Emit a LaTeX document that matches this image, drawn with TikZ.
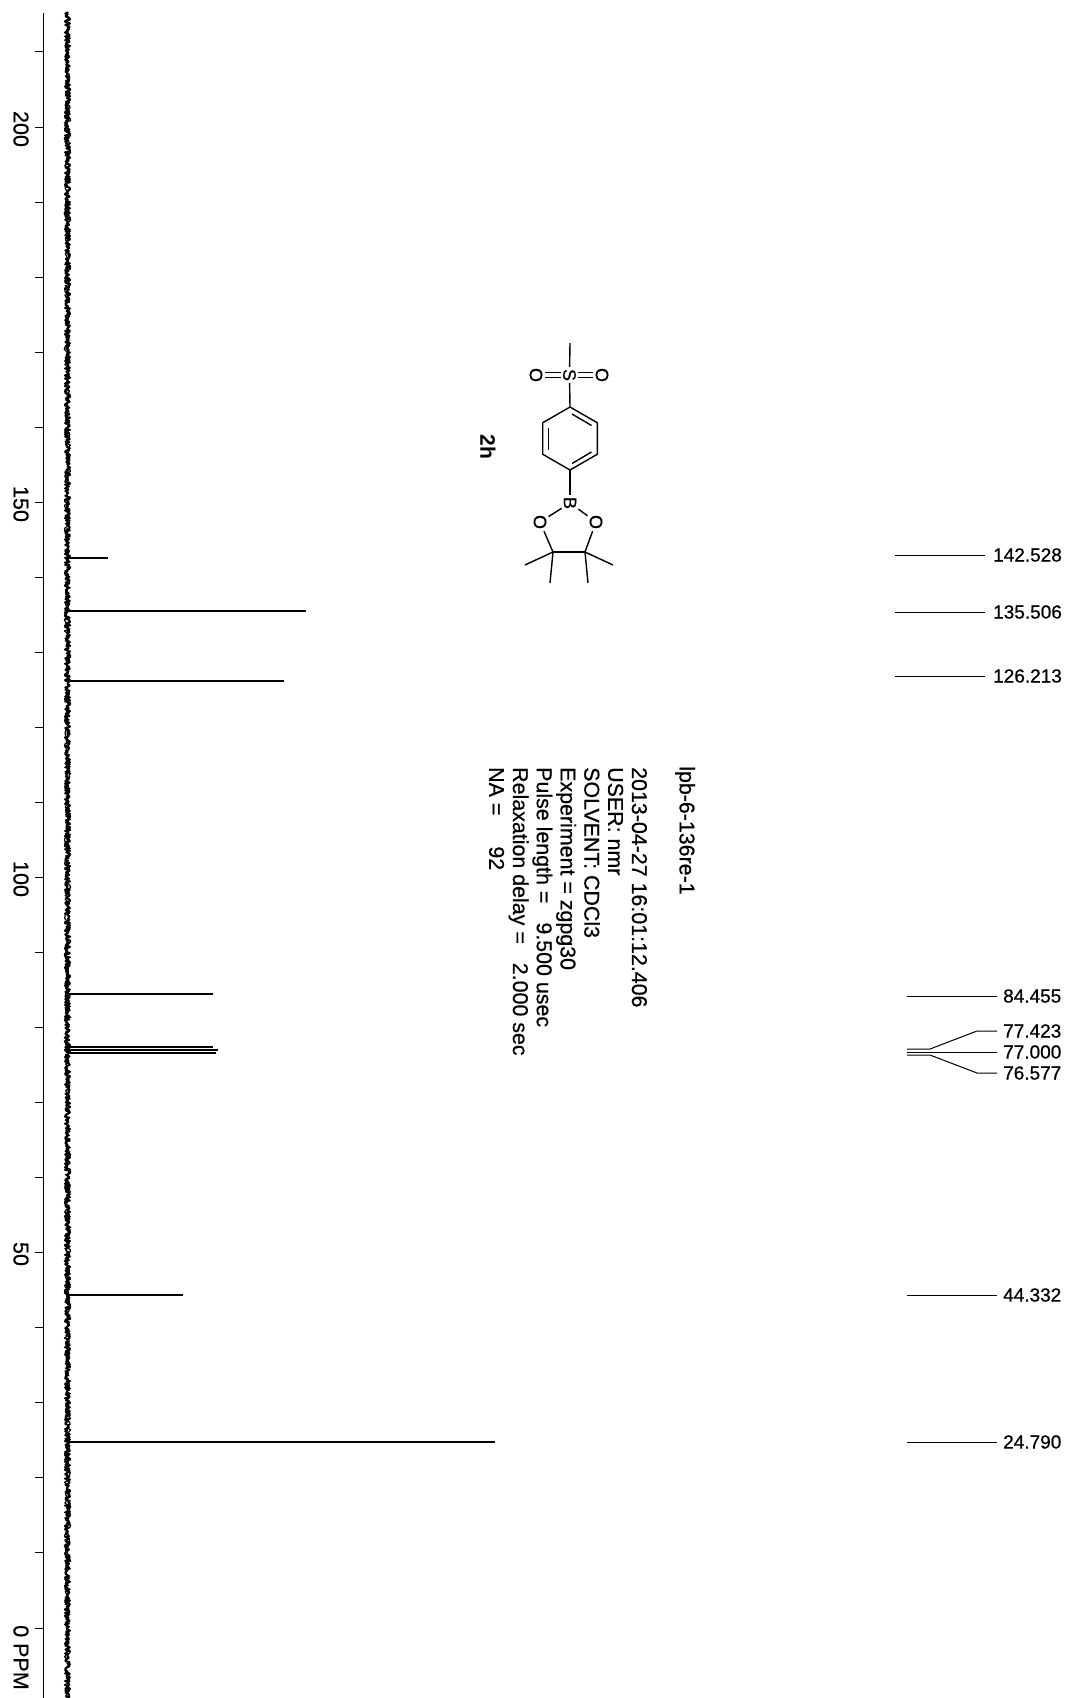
\documentclass[tikz,border=0pt]{standalone}
\usepackage{fontspec}
\setmainfont{Liberation Sans}[UprightFeatures={FakeBold=0.6}]
\begin{document}
\begin{tikzpicture}[x=1pt,y=-1pt,
  ax/.style={line width=1pt},
  pk/.style={line width=1.8pt},
  tag/.style={line width=1pt},
  lab/.style={font=\fontsize{19}{22}\selectfont, inner sep=0pt, anchor=west},
  axl/.style={font=\fontsize{21.5}{24}\selectfont, rotate=-90, inner sep=0pt},
  info/.style={font=\fontsize{21.4}{24}\selectfont, rotate=-90, inner sep=0pt, anchor=base west},
  atom/.style={font=\fontsize{18}{20}\selectfont, rotate=-90, inner sep=2pt},
  bond/.style={line width=1.4pt},
]
\useasboundingbox (0,0) rectangle (1068,1698);
\fill[white] (0,0) rectangle (1068,1698);

% axis
\draw[ax] (43,13) -- (43,1698);
\foreach \p in {0,10,...,210}
  \draw[ax] (35,{1628-7.505*\p}) -- (43,{1628-7.505*\p});
\node[axl] (a200) at (21,129) {200};
\node[axl] (a150) at (21,504) {150};
\node[axl] (a100) at (21,879) {100};
\node[axl] (a50) at (21,1254) {50};
\node[axl, anchor=west] (a0) at (21,1625) {0 PPM};

% baseline noise
\pgfmathsetseed{12345}
\draw[line width=2pt, line join=round]
  plot[domain=12:1698, samples=2200, variable=\t] ({67.5+2.6*rand},{\t});
\draw[line width=1.2pt, line join=round]
  plot[domain=12:1698, samples=900, variable=\t] ({67.5+3.2*rand},{\t});

% peaks
\draw[pk] (67,558.3) -- (108,558.3);
\draw[pk] (67,611.0) -- (306,611.0);
\draw[pk] (67,680.8) -- (284,680.8);
\draw[pk] (67,994.2) -- (213,994.2);
\draw[pk] (67,1046.9) -- (213,1046.9);
\draw[pk] (67,1050.1) -- (218,1050.1);
\draw[pk] (67,1053.3) -- (216,1053.3);
\draw[pk] (67,1295.3) -- (183,1295.3);
\draw[pk] (67,1442.0) -- (495,1442.0);

% peak labels
\node[lab] (l1) at (993,555) {142.528};
\node[lab] (l2) at (993,612) {135.506};
\node[lab] (l3) at (993,676) {126.213};
\node[lab] (l4) at (1003,996) {84.455};
\node[lab] (l5) at (1003,1031) {77.423};
\node[lab] (l6) at (1003,1052) {77.000};
\node[lab] (l7) at (1003,1073) {76.577};
\node[lab] (l8) at (1003,1295) {44.332};
\node[lab] (l9) at (1003,1442) {24.790};
\coordinate (s1) at (895,555);
\coordinate (s2) at (895,612);
\coordinate (s3) at (895,676);
\coordinate (s4) at (907,996);
\coordinate (s5) at (907,1049);
\coordinate (s6) at (907,1052);
\coordinate (s7) at (907,1055);
\coordinate (k5a) at (930,1049);
\coordinate (k5b) at (977,1031);
\coordinate (k7a) at (930,1055);
\coordinate (k7b) at (977,1073);
\coordinate (s8) at (907,1295);
\coordinate (s9) at (907,1442);
\draw[tag] (s1) -- ([xshift=-8pt]l1.west);
\draw[tag] (s2) -- ([xshift=-8pt]l2.west);
\draw[tag] (s3) -- ([xshift=-8pt]l3.west);
\draw[tag] (s4) -- ([xshift=-6pt]l4.west);
\draw[tag] (s5) -- (k5a) -- (k5b) -- ([xshift=-6pt]l5.west);
\draw[tag] (s6) -- ([xshift=-6pt]l6.west);
\draw[tag] (s7) -- (k7a) -- (k7b) -- ([xshift=-6pt]l7.west);
\draw[tag] (s8) -- ([xshift=-6pt]l8.west);
\draw[tag] (s9) -- ([xshift=-6pt]l9.west);

% info text
\node[info] (t1) at (679.6,766) {lpb-6-136re-1};
\node[info] (t2) at (632,767) {2013-04-27 16:01:12.406};
\node[info] (t3) at (608.2,767) {USER: nmr};
\node[info] (t4) at (584.4,767) {SOLVENT: CDCl3};
\node[info] (t5) at (560.6,767) {Experiment = zgpg30};
\node[info] (t6) at (536.8,767) {Pulse length =\hspace{19pt}9.500 usec};
\node[info] (t7) at (513,767) {Relaxation delay =\hspace{19pt}2.000 sec};
\node[info] (t8) at (489.2,767) {NA =\hspace{31pt}92};

% molecule
\node[font=\bfseries\fontsize{21}{24}\selectfont, rotate=-90, inner sep=0pt] (cmpd) at (488,447) {2h};
\node[atom] (S) at (569.5,375) {S};
\node[atom] (O1) at (536,375) {O};
\node[atom] (O2) at (602,375) {O};
\node[atom] (B) at (570,503) {B};
\node[atom] (O3) at (540,522) {O};
\node[atom] (O4) at (596,522) {O};
\coordinate (Me) at (570,343);
\coordinate (r1) at (570,407);
\coordinate (r2) at (597.3,422.75);
\coordinate (r3) at (597.3,454.25);
\coordinate (r4) at (570,470);
\coordinate (r5) at (542.7,454.25);
\coordinate (r6) at (542.7,422.75);
\coordinate (c1) at (553,552);
\coordinate (c2) at (585,552);
\coordinate (m1) at (525,565);
\coordinate (m2) at (550,583);
\coordinate (m3) at (613,565);
\coordinate (m4) at (588,583);
\coordinate (i1) at (548.5,428);
\coordinate (i2) at (548.5,450);
\coordinate (i3) at (572,414);
\coordinate (i4) at (591.5,425.5);
\coordinate (i5) at (572,463.5);
\coordinate (i6) at (591.5,452);
\draw[bond] (Me) -- (S);
\draw[bond] (S) -- (r1);
\draw[bond, line join=round] (r1) -- (r2) -- (r3) -- (r4) -- (r5) -- (r6) -- cycle;
\draw[bond] (i1) -- (i2);
\draw[bond] (i3) -- (i4);
\draw[bond] (i5) -- (i6);
\draw[bond, transform canvas={yshift=2.5pt}] (O1) -- (S);
\draw[bond, transform canvas={yshift=-2.5pt}] (O1) -- (S);
\draw[bond, transform canvas={yshift=2.5pt}] (S) -- (O2);
\draw[bond, transform canvas={yshift=-2.5pt}] (S) -- (O2);
\draw[bond] (r4) -- (B);
\draw[bond] (B) -- (O3);
\draw[bond] (B) -- (O4);
\draw[bond] (O3) -- (c1);
\draw[bond] (O4) -- (c2);
\draw[bond] (c1) -- (c2);
\draw[bond] (c1) -- (m1);
\draw[bond] (c1) -- (m2);
\draw[bond] (c2) -- (m3);
\draw[bond] (c2) -- (m4);
\end{tikzpicture}
\end{document}
